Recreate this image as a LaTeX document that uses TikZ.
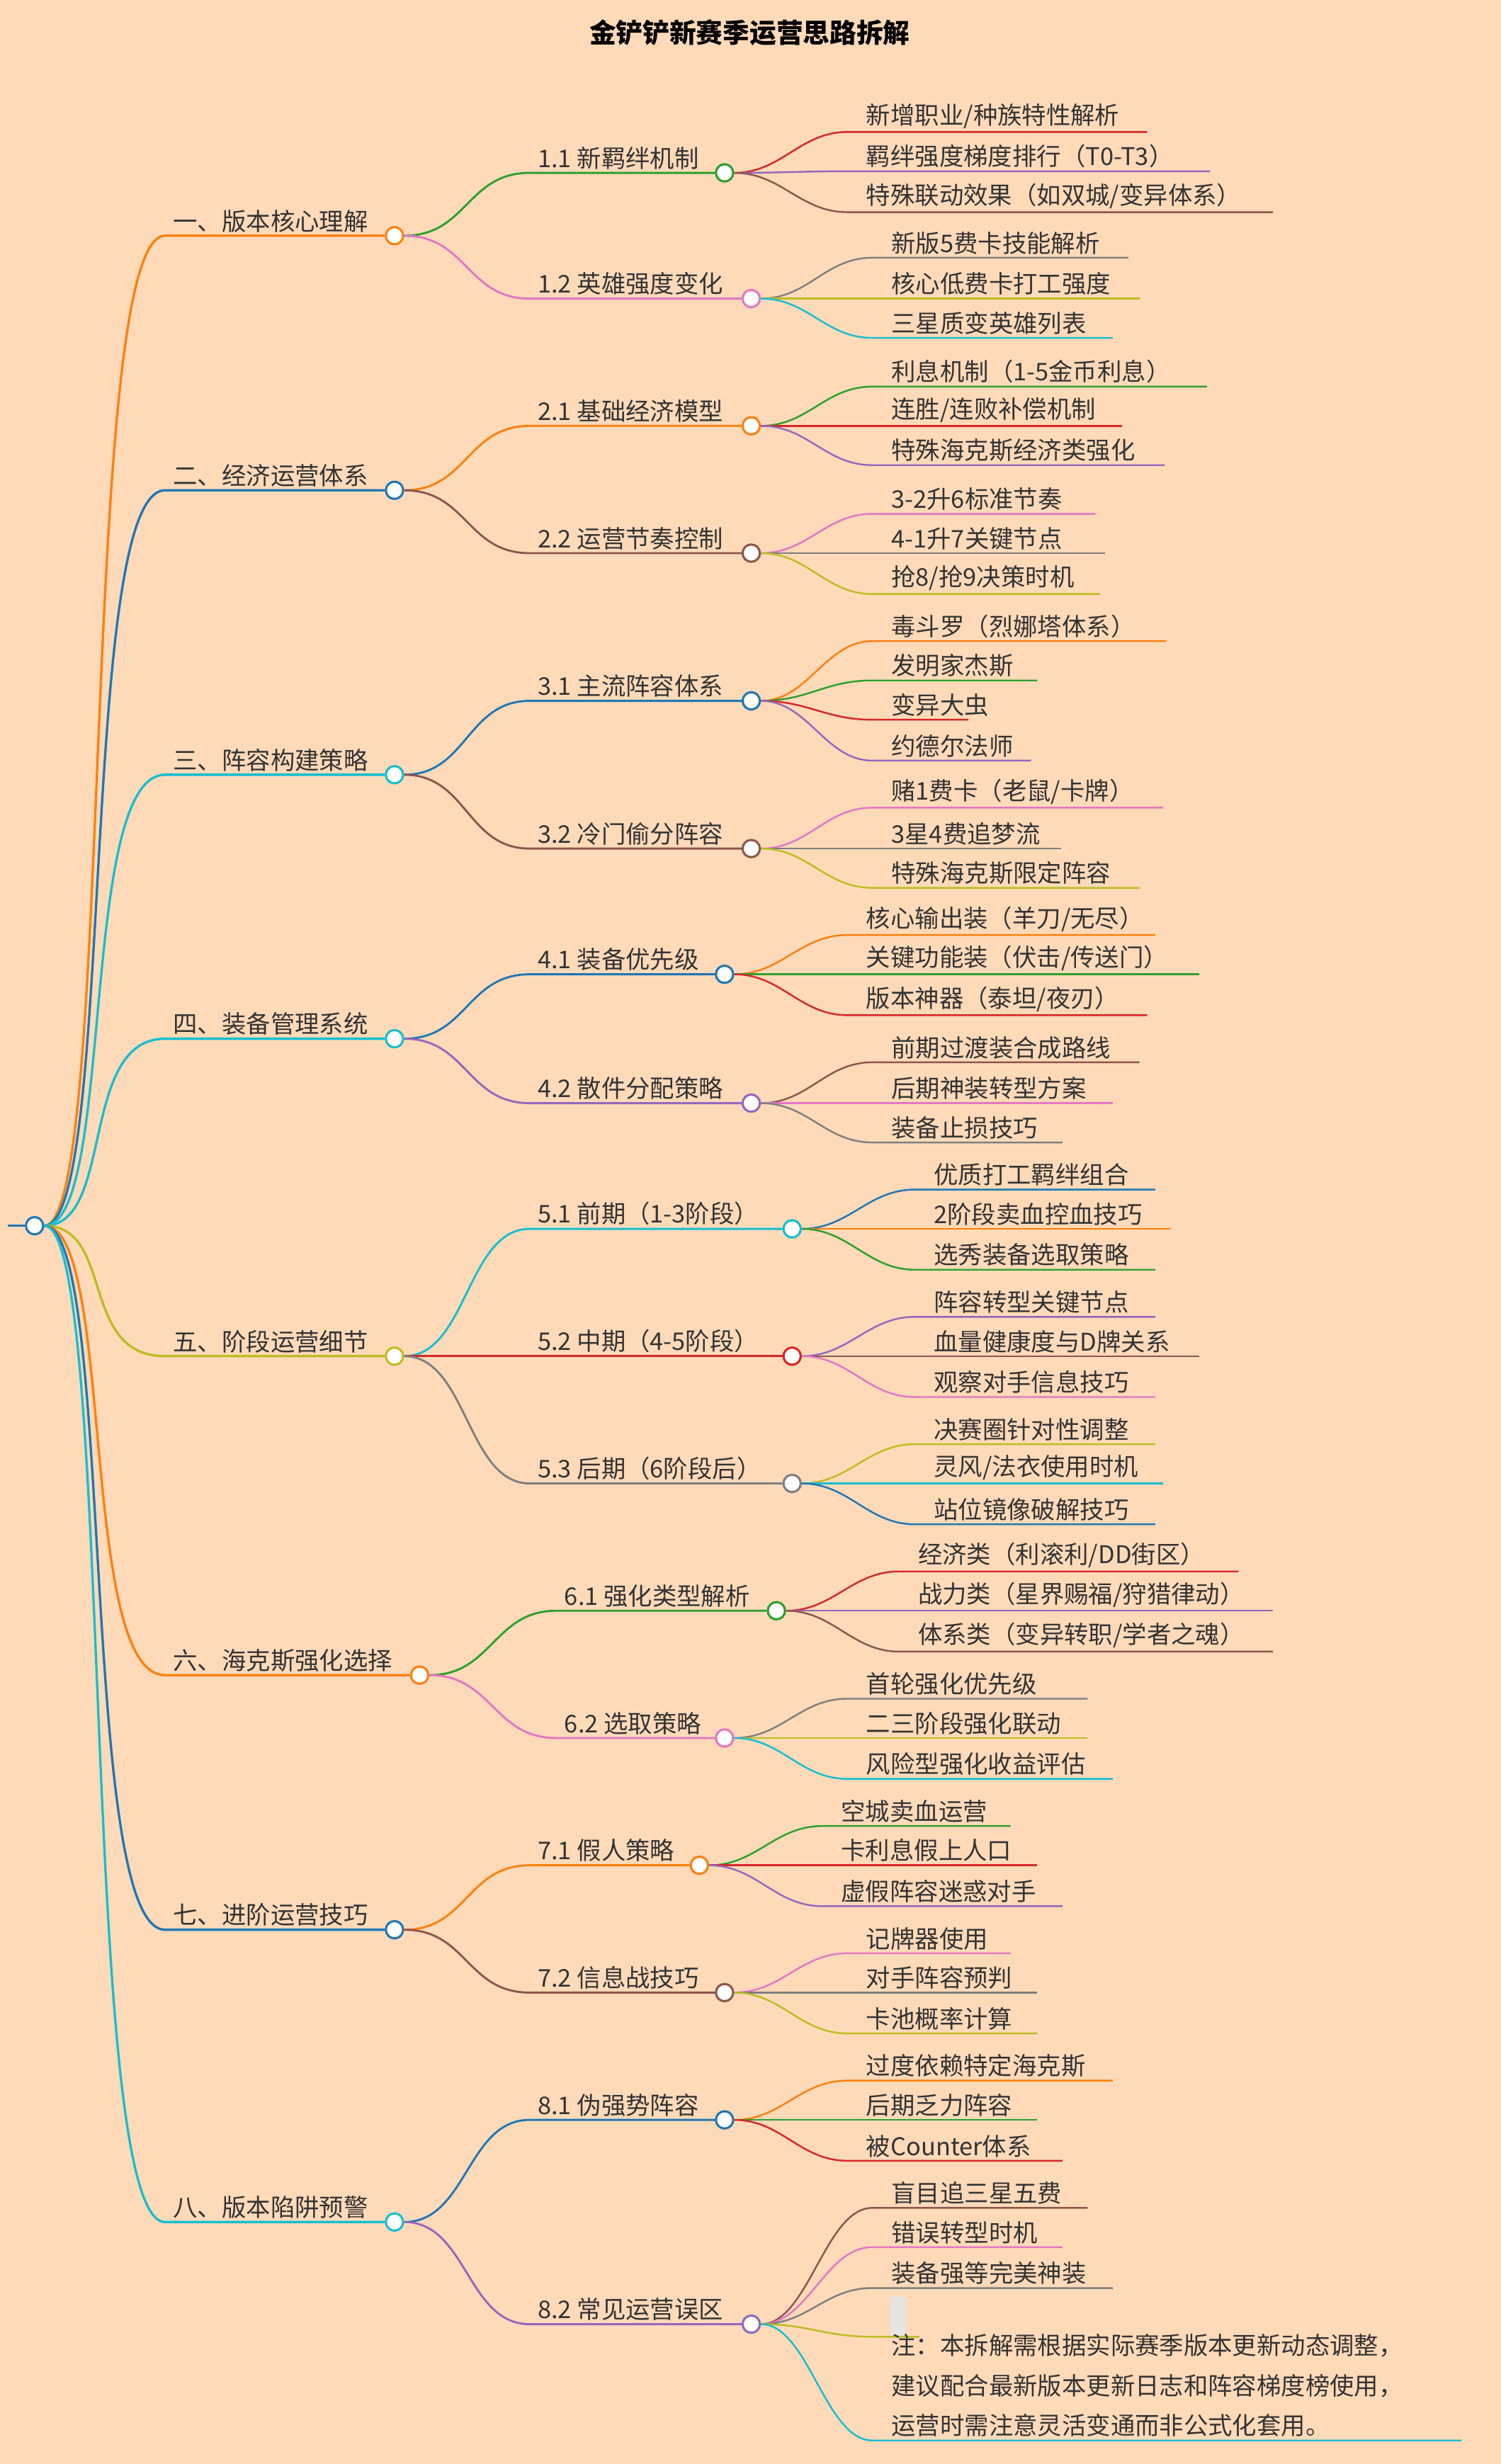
\documentclass[tikz,border=0pt]{standalone}
\usepackage{fontspec}
\setmainfont{Noto Sans CJK SC}
\definecolor{bg}{RGB}{255,218,185}
\definecolor{cO}{RGB}{255,127,14}
\definecolor{cG}{RGB}{44,160,44}
\definecolor{cR}{RGB}{214,39,40}
\definecolor{cP}{RGB}{148,103,189}
\definecolor{cB}{RGB}{140,86,75}
\definecolor{cK}{RGB}{227,119,194}
\definecolor{cY}{RGB}{127,127,127}
\definecolor{cL}{RGB}{188,189,34}
\definecolor{cC}{RGB}{23,190,207}
\definecolor{cU}{RGB}{31,119,180}
\tikzset{x=1pt,y=1pt,
 lab/.style={font=\fontsize{15.5}{18}\selectfont,text=black!80,inner sep=2pt},
 dot/.style={circle,draw=#1,fill=white,line width=1.4pt,minimum size=11pt,inner sep=0pt},
 e1/.style={#1,line width=1.5pt},
 e2/.style={#1,line width=1.3pt},
 e3/.style={#1,line width=1.1pt}}
\newcommand\Lone[5]{% name, color, cx, y, text
 \node[dot=#2] (#1) at (#3,-#4) {};
 \node[lab,anchor=south west] (#1t) at (108,-#4) {#5};
 \draw[e1=#2] (root.east) .. controls +(45,0) and +(-55,0) .. (105,-#4) -- (#1.west);}
\newcommand\Ltwo[7]{% parent, name, color, cx, y, text, textx
 \node[dot=#3] (#2) at (#4,-#5) {};
 \node[lab,anchor=south west] (#2t) at (#7,-#5) {#6};
 \draw[e2=#3] (#1.east) .. controls +(40,0) and +(-40,0) .. (#7-3,-#5) -- (#2.west);}
\newcommand\Lthree[7]{% parent, name, color, startx, y, endx, text
 \node[lab,anchor=south west] (#2) at (#4-2,-#5) {#7};
 \draw[e3=#3] (#1.east) .. controls +(30,0) and +(-30,0) .. (#4-12,-#5) -- (#6,-#5);}
\begin{document}
\begin{tikzpicture}
\fill[bg] (0,0) rectangle (955,-1568);
\useasboundingbox (0,0) rectangle (955,-1568);
\node[font=\fontsize{17}{20}\selectfont\bfseries] (title) at (477,-21) {金铲铲新赛季运营思路拆解};
\node[dot=cU] (root) at (22,-780) {};
\coordinate (r0) at (5,-780);
\draw[e1=cU] (r0) -- (root.west);
% Level 1
\Lone{a}{cO}{251}{150}{一、版本核心理解}
\Lone{b}{cU}{251}{312}{二、经济运营体系}
\Lone{c}{cC}{251}{493}{三、阵容构建策略}
\Lone{d}{cC}{251}{661}{四、装备管理系统}
\Lone{e}{cL}{251}{863}{五、阶段运营细节}
\Lone{f}{cO}{267}{1066}{六、海克斯强化选择}
\Lone{g}{cU}{251}{1228}{七、进阶运营技巧}
\Lone{h}{cC}{251}{1414}{八、版本陷阱预警}
% 1
\Ltwo{a}{a1}{cG}{461}{110}{1.1 新羁绊机制}{340}
\Lthree{a1}{a11}{cR}{551}{84}{730}{新增职业/种族特性解析}
\Lthree{a1}{a12}{cP}{551}{109}{770}{羁绊强度梯度排行（T0-T3）}
\Lthree{a1}{a13}{cB}{551}{135}{810}{特殊联动效果（如双城/变异体系）}
\Ltwo{a}{a2}{cK}{478}{190}{1.2 英雄强度变化}{340}
\Lthree{a2}{a21}{cY}{567}{164}{718}{新版5费卡技能解析}
\Lthree{a2}{a22}{cL}{567}{190}{725}{核心低费卡打工强度}
\Lthree{a2}{a23}{cC}{567}{215}{708}{三星质变英雄列表}
% 2
\Ltwo{b}{b1}{cO}{478}{271}{2.1 基础经济模型}{340}
\Lthree{b1}{b11}{cG}{567}{246}{768}{利息机制（1-5金币利息）}
\Lthree{b1}{b12}{cR}{567}{271}{714}{连胜/连败补偿机制}
\Lthree{b1}{b13}{cP}{567}{296}{741}{特殊海克斯经济类强化}
\Ltwo{b}{b2}{cB}{478}{352}{2.2 运营节奏控制}{340}
\Lthree{b2}{b21}{cK}{567}{327}{697}{3-2升6标准节奏}
\Lthree{b2}{b22}{cY}{567}{352}{703}{4-1升7关键节点}
\Lthree{b2}{b23}{cL}{567}{378}{700}{抢8/抢9决策时机}
% 3
\Ltwo{c}{c1}{cU}{478}{446}{3.1 主流阵容体系}{340}
\Lthree{c1}{c11}{cO}{567}{408}{742}{毒斗罗（烈娜塔体系）}
\Lthree{c1}{c12}{cG}{567}{433}{660}{发明家杰斯}
\Lthree{c1}{c13}{cR}{567}{458}{616}{变异大虫}
\Lthree{c1}{c14}{cP}{567}{484}{656}{约德尔法师}
\Ltwo{c}{c2}{cB}{478}{540}{3.2 冷门偷分阵容}{340}
\Lthree{c2}{c21}{cK}{567}{514}{740}{赌1费卡（老鼠/卡牌）}
\Lthree{c2}{c22}{cY}{567}{540}{675}{3星4费追梦流}
\Lthree{c2}{c23}{cL}{567}{565}{725}{特殊海克斯限定阵容}
% 4
\Ltwo{d}{d1}{cU}{461}{620}{4.1 装备优先级}{340}
\Lthree{d1}{d11}{cO}{551}{595}{735}{核心输出装（羊刀/无尽）}
\Lthree{d1}{d12}{cG}{551}{620}{763}{关键功能装（伏击/传送门）}
\Lthree{d1}{d13}{cR}{551}{646}{730}{版本神器（泰坦/夜刃）}
\Ltwo{d}{d2}{cP}{478}{702}{4.2 散件分配策略}{340}
\Lthree{d2}{d21}{cB}{567}{676}{725}{前期过渡装合成路线}
\Lthree{d2}{d22}{cK}{567}{702}{708}{后期神装转型方案}
\Lthree{d2}{d23}{cY}{567}{727}{676}{装备止损技巧}
% 5
\Ltwo{e}{e1}{cC}{504}{782}{5.1 前期（1-3阶段）}{340}
\Lthree{e1}{e11}{cU}{594}{757}{735}{优质打工羁绊组合}
\Lthree{e1}{e12}{cO}{594}{782}{745}{2阶段卖血控血技巧}
\Lthree{e1}{e13}{cG}{594}{808}{735}{选秀装备选取策略}
\Ltwo{e}{e2}{cR}{504}{863}{5.2 中期（4-5阶段）}{340}
\Lthree{e2}{e21}{cP}{594}{838}{735}{阵容转型关键节点}
\Lthree{e2}{e22}{cB}{594}{863}{763}{血量健康度与D牌关系}
\Lthree{e2}{e23}{cK}{594}{889}{735}{观察对手信息技巧}
\Ltwo{e}{e3}{cY}{504}{944}{5.3 后期（6阶段后）}{340}
\Lthree{e3}{e31}{cL}{594}{919}{735}{决赛圈针对性调整}
\Lthree{e3}{e32}{cC}{594}{944}{740}{灵风/法衣使用时机}
\Lthree{e3}{e33}{cU}{594}{970}{735}{站位镜像破解技巧}
% 6
\Ltwo{f}{f1}{cG}{494}{1025}{6.1 强化类型解析}{357}
\Lthree{f1}{f11}{cR}{584}{1000}{788}{经济类（利滚利/DD街区）}
\Lthree{f1}{f12}{cP}{584}{1025}{810}{战力类（星界赐福/狩猎律动）}
\Lthree{f1}{f13}{cB}{584}{1051}{810}{体系类（变异转职/学者之魂）}
\Ltwo{f}{f2}{cK}{461}{1106}{6.2 选取策略}{357}
\Lthree{f2}{f21}{cY}{551}{1081}{692}{首轮强化优先级}
\Lthree{f2}{f22}{cL}{551}{1106}{692}{二三阶段强化联动}
\Lthree{f2}{f23}{cC}{551}{1132}{708}{风险型强化收益评估}
% 7
\Ltwo{g}{g1}{cO}{445}{1187}{7.1 假人策略}{340}
\Lthree{g1}{g11}{cG}{535}{1162}{643}{空城卖血运营}
\Lthree{g1}{g12}{cR}{535}{1187}{660}{卡利息假上人口}
\Lthree{g1}{g13}{cP}{535}{1213}{676}{虚假阵容迷惑对手}
\Ltwo{g}{g2}{cB}{461}{1268}{7.2 信息战技巧}{340}
\Lthree{g2}{g21}{cK}{551}{1243}{643}{记牌器使用}
\Lthree{g2}{g22}{cY}{551}{1268}{660}{对手阵容预判}
\Lthree{g2}{g23}{cL}{551}{1294}{660}{卡池概率计算}
% 8
\Ltwo{h}{h1}{cU}{461}{1349}{8.1 伪强势阵容}{340}
\Lthree{h1}{h11}{cO}{551}{1324}{708}{过度依赖特定海克斯}
\Lthree{h1}{h12}{cG}{551}{1349}{660}{后期乏力阵容}
\Lthree{h1}{h13}{cR}{551}{1375}{676}{被Counter体系}
\Ltwo{h}{h2}{cP}{478}{1479}{8.2 常见运营误区}{340}
\Lthree{h2}{h21}{cB}{567}{1405}{692}{盲目追三星五费}
\Lthree{h2}{h22}{cK}{567}{1430}{676}{错误转型时机}
\Lthree{h2}{h23}{cY}{567}{1456}{708}{装备强等完美神装}
\node[fill=black!10,minimum width=9pt,minimum height=24pt,inner sep=0pt,anchor=south west] (h24) at (567,-1486) {};
\draw[e3=cL] (h2.east) .. controls +(30,0) and +(-30,0) .. (555,-1487) -- (585,-1487);
\node[lab,anchor=south west,align=left,font=\fontsize{15.5}{25.5}\selectfont] (h25) at (565,-1553) {注：本拆解需根据实际赛季版本更新动态调整，\\建议配合最新版本更新日志和阵容梯度榜使用，\\运营时需注意灵活变通而非公式化套用。};
\draw[e3=cC] (h2.east) .. controls +(30,0) and +(-30,0) .. (555,-1553) -- (930,-1553);
\end{tikzpicture}
\end{document}
